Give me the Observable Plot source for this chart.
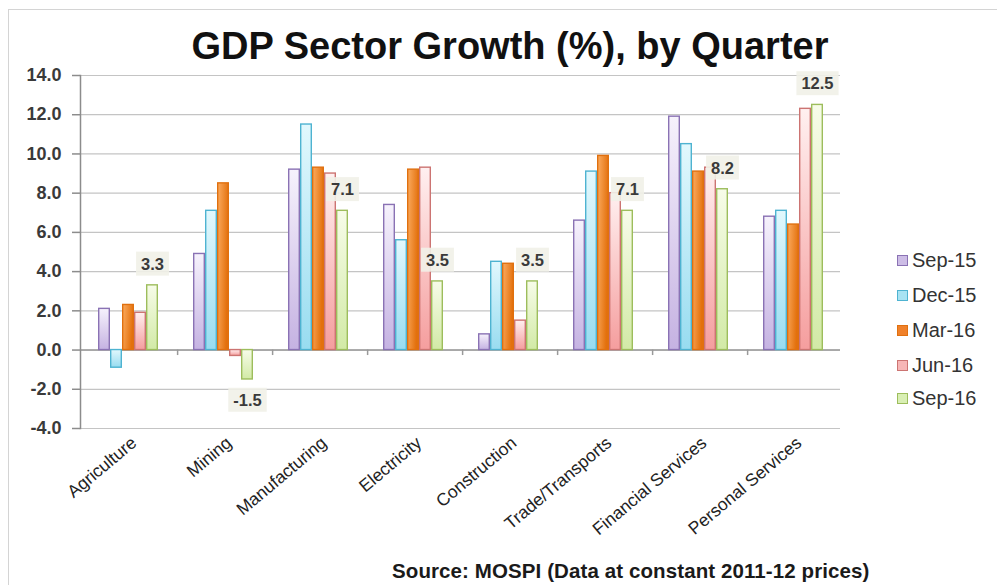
<!DOCTYPE html>
<html>
<head>
<meta charset="utf-8">
<script src="https://cdn.jsdelivr.net/npm/d3@7"></script>
<script src="https://cdn.jsdelivr.net/npm/@observablehq/plot@0.6"></script>
<style>
  html, body { margin: 0; padding: 0; background: #fff; }
  #wrap { position: relative; width: 997px; height: 585px; overflow: hidden; font-family: "Liberation Sans", Arial, sans-serif; }
  #frame { position: absolute; left: 8px; top: 9px; width: 1000px; height: 600px; border-left: 1px solid #d4d4d4; border-top: 1px solid #d4d4d4; }
  #title { position: absolute; left: 0; width: 1020px; top: 25px; text-align: center; font-size: 38px; font-weight: bold; color: #111; white-space: nowrap; }
  #chart { position: absolute; left: 0; top: 0; }
  #legend { position: absolute; left: 897px; top: 0; }
  .item { position: absolute; left: 0; display: flex; align-items: center; font-size: 20px; color: #333; white-space: nowrap; height: 24px; }
  .sw { width: 9px; height: 9px; margin-right: 4px; border: 1.5px solid; }
  #source { position: absolute; left: 392px; top: 559px; font-size: 20.5px; font-weight: bold; color: #1a1a1a; white-space: nowrap; letter-spacing: 0.1px; }
</style>
</head>
<body>
<div id="wrap">
  <div id="frame"></div>
  <div id="chart"></div>
  <div id="title">GDP Sector Growth (%), by Quarter</div>
  <div id="legend"></div>
  <div id="source">Source: MOSPI (Data at constant 2011-12 prices)</div>
</div>
<script>
const sectors = ["Agriculture", "Mining", "Manufacturing", "Electricity", "Construction", "Trade/Transports", "Financial Services", "Personal Services"];
const quarters = ["Sep-15", "Dec-15", "Mar-16", "Jun-16", "Sep-16"];
const sep15 = [2.1, 4.9, 9.2, 7.4, 0.8, 6.6, 11.9, 6.8];
const dec15 = [-0.9, 7.1, 11.5, 5.6, 4.5, 9.1, 10.5, 7.1];
const mar16 = [2.3, 8.5, 9.3, 9.2, 4.4, 9.9, 9.1, 6.4];
const jun16 = [1.9, -0.3, 9.0, 9.3, 1.5, 8.0, 9.3, 12.3];
const sep16 = [3.3, -1.5, 7.1, 3.5, 3.5, 7.1, 8.2, 12.5];
const yTicks = [-4, -2, 0, 2, 4, 6, 8, 10, 12, 14];
const labelledQuarter = "Sep-16";

const seriesValues = [sep15, dec15, mar16, jun16, sep16];
const rows = sectors.flatMap((s, i) => quarters.map((q, j) => ({sector: s, quarter: q, value: seriesValues[j][i]})));

// styles
const strokes = ["#8a72b4", "#4eb3d1", "#e0700f", "#cc7472", "#9dbd5c"];
const grads = [
  ["#f6f2fc", "#c5b2e2"],
  ["#e2f8fd", "#98dcf0"],
  ["#fbab5f", "#e3700c"],
  ["#fff0f0", "#f59e9e"],
  ["#f7fce9", "#d2eaa6"]
];
const swatchFill = ["#cdbde6", "#a8e3f3", "#f0812a", "#f7b6b6", "#d9efb4"];

const marks = [
  Plot.gridY(yTicks, {stroke: "#c4c4c4", strokeOpacity: 1, strokeWidth: 1.2}),
  Plot.ruleY([0], {stroke: "#9a9a9a", strokeWidth: 1.5}),
  // small tick marks at category boundaries on the zero line
  Plot.ruleX(sectors.slice(1), {fx: d => d, x: () => quarters[0], y1: 0, y2: -0.28,
    dx: -(95 / 7.42) * 1.71, stroke: "#9a9a9a", strokeWidth: 1.5})
];
quarters.forEach((q, j) => {
  marks.push(Plot.barY(rows.filter(d => d.quarter === q), {
    fx: "sector", x: "quarter", y: "value",
    fill: `url(#g${j})`, stroke: strokes[j], strokeWidth: 1.4,
    insetLeft: 0.7, insetRight: 0.7
  }));
});
const lab = rows.filter(d => d.quarter === labelledQuarter);
const textOpts = {fx: "sector", x: "quarter", y: "value", text: d => d.value.toFixed(1),
  fontSize: 16.5, fontWeight: "bold", fill: "#3a3a3a", className: "dlabel"};
marks.push(Plot.text(lab.filter(d => d.value >= 0), {...textOpts, dy: -21}));
marks.push(Plot.text(lab.filter(d => d.value < 0), {...textOpts, dy: 21}));
marks.push(Plot.frame({anchor: "left", facetAnchor: "left", stroke: "#8c8c8c", strokeWidth: 1.5}));
marks.push(Plot.axisY({ticks: yTicks, tickFormat: d => d.toFixed(1), tickSize: 8, tickPadding: 11, label: null,
  fontSize: 18, fontWeight: "bold", fill: "#3a3a3a", stroke: "#8c8c8c", strokeWidth: 1.5}));
marks.push(Plot.axisFx({anchor: "bottom", tickRotate: -40, tickSize: 0, tickPadding: 12, label: null,
  fontSize: 17.5, fill: "#222", dx: 6}));

const chart = Plot.plot({
  width: 997, height: 585,
  marginLeft: 80, marginRight: 157, marginTop: 75, marginBottom: 157,
  style: {fontFamily: "'Liberation Sans', Arial, sans-serif", background: "transparent"},
  fx: {domain: sectors, padding: 0, label: null, axis: null},
  x: {domain: quarters, axis: null, paddingInner: 0, paddingOuter: 1.21},
  y: {domain: [-4, 14], label: null, axis: null},
  marks
});
document.getElementById("chart").appendChild(chart);

// gradients
const svg = d3.select(chart);
const defs = svg.insert("defs", ":first-child");
grads.forEach((g, j) => {
  const lg = defs.append("linearGradient").attr("id", `g${j}`)
    .attr("x1", 0).attr("y1", 0).attr("x2", j === 2 ? 1 : 0).attr("y2", j === 2 ? 0.3 : 1);
  lg.append("stop").attr("offset", "0%").attr("stop-color", g[0]);
  lg.append("stop").attr("offset", "100%").attr("stop-color", g[1]);
});

// label backgrounds
svg.selectAll("g.dlabel text").each(function() {
  const bb = this.getBBox();
  d3.select(this.parentNode).insert("rect", () => this)
    .attr("x", bb.x - 5).attr("y", bb.y - 3).attr("width", bb.width + 10).attr("height", bb.height + 6)
    .attr("fill", "#f1f1e8").attr("fill-opacity", 0.9)
    .attr("transform", this.getAttribute("transform"));
});

// legend
const legendTops = [260, 295, 330, 365, 398];
const legend = d3.select("#legend");
quarters.forEach((q, j) => {
  const it = legend.append("div").attr("class", "item").style("top", (legendTops[j] - 12) + "px");
  it.append("div").attr("class", "sw").style("background", swatchFill[j]).style("border-color", strokes[j]);
  it.append("span").text(q);
});
</script>
</body>
</html>
